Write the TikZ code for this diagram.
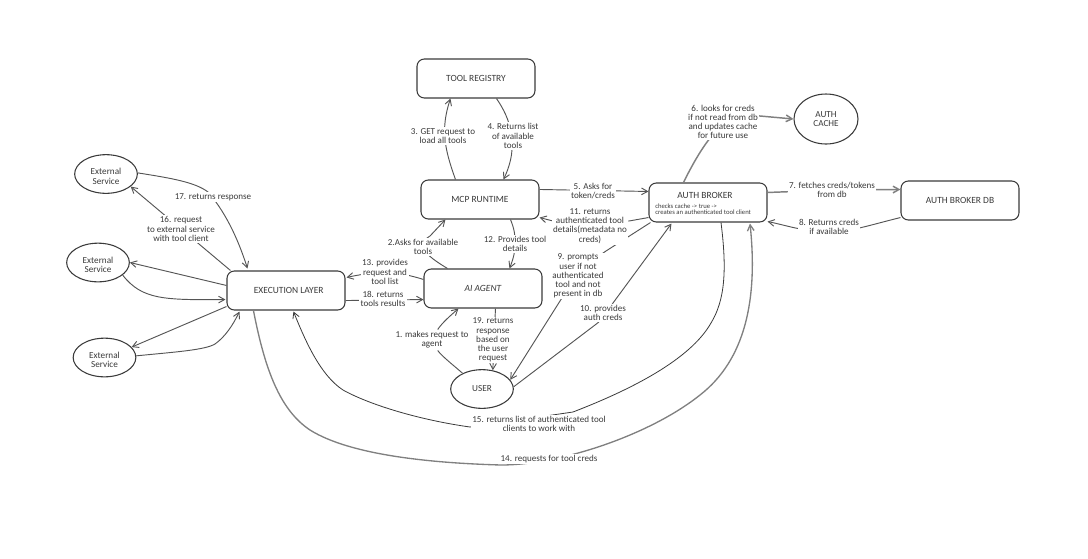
\documentclass[tikz,border=0pt]{standalone}
\usepackage{fontspec}
\setmainfont{Carlito}
\usetikzlibrary{shapes.geometric,arrows.meta}
\definecolor{ink}{HTML}{3A3A3A}
\definecolor{wire}{HTML}{555555}
\definecolor{heavy}{HTML}{808080}
\newcommand{\dropline}{\rule{0pt}{8.5pt}}
\tikzset{
  every node/.style={text=ink},
  boxnode/.style={draw=ink,line width=0.8pt,rounded corners=5.5pt,minimum width=88.5pt,minimum height=29.25pt,inner sep=0pt,font=\fontsize{7.1}{7.6}\selectfont},
  oval/.style={draw=ink,line width=0.8pt,ellipse,minimum width=47pt,minimum height=29pt,inner sep=0pt,align=center,font=\fontsize{6.9}{7.2}\selectfont},
  lab/.style={fill=white,align=center,inner sep=1pt,font=\fontsize{6.8}{6.9}\selectfont},
  wirearrow/.style={draw=wire,line width=0.7pt,-{Straight Barb[length=4.5pt,width=5pt]}},
  heavyarrow/.style={draw=heavy,line width=1.1pt,-{Straight Barb[length=4.5pt,width=5pt]}},
  darkarrow/.style={draw=ink,line width=0.6pt,-{Straight Barb[length=4.5pt,width=5pt]}},
}
\begin{document}
\begin{tikzpicture}[x=0.75pt,y=-0.75pt]
\useasboundingbox (0,0) rectangle (1088,558);
% nodes
\node[boxnode] (tool) at (476,78.5) {TOOL REGISTRY};
\node[boxnode] (mcp) at (480,199.5) {MCP RUNTIME};
\node[boxnode] (agent) at (483,288.5) {\itshape AI AGENT};
\node[boxnode] (exec) at (286,290.5) {\hspace*{4pt}EXECUTION LAYER};
\node[boxnode] (broker) at (708,202.5) {};
\node[font=\fontsize{7.1}{7.6}\selectfont] (brokertitle) at (705,195) {AUTH BROKER};
\node[anchor=west,align=left,inner sep=0pt,font=\fontsize{5}{4.3}\selectfont] (brokernote) at (655,209.5) {checks cache -> true ->\\creates an authenticated tool client};
\node[boxnode] (db) at (960,200.5) {AUTH BROKER DB};
\node[oval,minimum width=48pt,minimum height=37.5pt] (cache) at (826,119) {AUTH\\CACHE};
\node[oval] (es1) at (106,174) {\dropline External\\Service};
\node[oval] (es2) at (98,262.5) {\dropline External\\Service};
\node[oval] (es3) at (104.5,357.5) {\dropline External\\Service};
\node[oval] (user) at (482,389) {USER};
% connectors
\draw[wirearrow] (user.141) .. controls (452,364) and (444,358) .. (438,351) -- (438,329) .. controls (443,322) and (450,316) .. ([shift={(35,0)}]agent.south west);
\draw[wirearrow] ([shift={(24,0)}]agent.north west) .. controls (425,255) and (415,245) .. (430,236) -- ([shift={(25,0)}]mcp.south west);
\draw[wirearrow] ([shift={(35,0)}]mcp.north west) .. controls (445,150) and (440,130) .. ([shift={(34,0)}]tool.south west);
\draw[wirearrow] ([shift={(80,0)}]tool.south west) .. controls (510,118) and (520,145) .. ([shift={(83,0)}]mcp.north west);
\draw[wirearrow] ([shift={(0,10)}]mcp.north east) -- ([shift={(0,9)}]broker.north west);
\draw[wirearrow] ([shift={(0,-5)}]broker.south west) -- (629,221) -- (553,221) -- ([shift={(0,-2)}]mcp.south east);
\draw[wirearrow] ([shift={(90,0)}]mcp.south west) .. controls (517,235) and (517,250) .. ([shift={(86,0)}]agent.north west);
\draw[heavyarrow] ([shift={(35,0)}]broker.north west) .. controls (712,125) and (730,113) .. (760,116) -- (cache.180);
\draw[heavyarrow] ([shift={(0,10)}]broker.north east) -- (835,190) -- ([shift={(0,9)}]db.north west);
\draw[wirearrow] ([shift={(0,-3)}]db.south west) .. controls (870,225) and (850,232) .. (829,232) .. controls (805,232) and (785,225) .. ([shift={(0,-1)}]broker.south east);
\draw[wirearrow] ([shift={(2,0)}]broker.south west) -- (606,251) .. controls (585,265) and (570,285) .. (560,301) -- (user.18);
\draw[wirearrow] (user.4) -- (595,325) .. controls (605,318) and (608,310) .. (613,303) -- ([shift={(23,1)}]broker.south west);
\draw[wirearrow] ([shift={(0,11)}]agent.north west) .. controls (400,272) and (380,270) .. ([shift={(1,7)}]exec.north east);
\draw[wirearrow] ([shift={(0,-10)}]exec.south east) -- ([shift={(0,-9)}]agent.south west);
\draw[wirearrow] ([shift={(72,0)}]agent.south west) -- (user.60);
\draw[wirearrow] ([shift={(4,0)}]exec.north west) -- (es1.-27);
\draw[wirearrow] (es1.2) .. controls (170,178) and (195,182) .. (208,192) .. controls (228,215) and (240,245) .. ([shift={(21,-2)}]exec.north west);
\draw[wirearrow] ([shift={(0,15)}]exec.north west) -- (es2.0);
\draw[wirearrow] (es2.-27) .. controls (142,300) and (165,300) .. ([shift={(-1,-11)}]exec.south west);
\draw[wirearrow] ([shift={(0,-4)}]exec.south west) -- (es3.21);
\draw[wirearrow] (es3.3) .. controls (175,352) and (205,350) .. (215,344) .. controls (225,337) and (233,325) .. ([shift={(13,1)}]exec.south west);
\draw[heavyarrow,line width=1pt] ([shift={(27,0)}]exec.south west) .. controls (265,370) and (280,410) .. (310,430) .. controls (350,455) and (430,463) .. (501,465) .. controls (560,465) and (650,435) .. (700,395) .. controls (745,360) and (758,300) .. ([shift={(42,1)}]broker.south);
\draw[darkarrow] ([shift={(13,0)}]broker.south) .. controls (727,270) and (725,300) .. (711,323) .. controls (690,360) and (630,390) .. (573,412) -- (470,427) .. controls (420,420) and (370,405) .. (343,390) .. controls (320,375) and (305,340) .. ([shift={(67,1)}]exec.south west);
% labels
\node[lab] (l1) at (432,340) {1. makes request to\\agent};
\node[lab] (l2) at (423,247) {2.Asks for available\\tools};
\node[lab] (l3) at (443,136) {3. GET request to\\load all tools};
\node[lab] (l4) at (513,136) {4. Returns list\\of available\\tools};
\node[lab] (l5) at (593,191) {5. Asks for\\token/creds};
\node[lab] (l6) at (723,122) {6. looks for creds\\if not read from db\\and updates cache\\for future use};
\node[lab] (l7) at (832,190) {7. fetches creds/tokens\\from db};
\node[lab] (l8) at (829,227) {8. Returns creds\\if available};
\node[lab] (l9) at (578,276) {9. prompts\\user if not\\authenticated\\tool and not\\present in db};
\node[lab] (l10) at (603,313) {10. provides\\auth creds};
\node[lab] (l11) at (590,226) {11. returns\\authenticated tool\\details(metadata no\\creds)};
\node[lab] (l12) at (515,244) {12. Provides tool\\details};
\node[lab] (l13) at (385,272) {13. provides\\request and\\tool list};
\node[lab] (l14) at (549,459) {14. requests for tool creds};
\node[lab] (l15) at (539,424) {15. returns list of authenticated tool\\clients to work with};
\node[lab] (l16) at (181,229) {16. request\\to external service\\with tool client};
\node[lab] (l17) at (213,197) {17. returns response};
\node[lab] (l18) at (383,299) {18. returns\\tools results};
\node[lab] (l19) at (493,340) {19. returns\\response\\based on\\the user\\request};
\end{tikzpicture}
\end{document}
